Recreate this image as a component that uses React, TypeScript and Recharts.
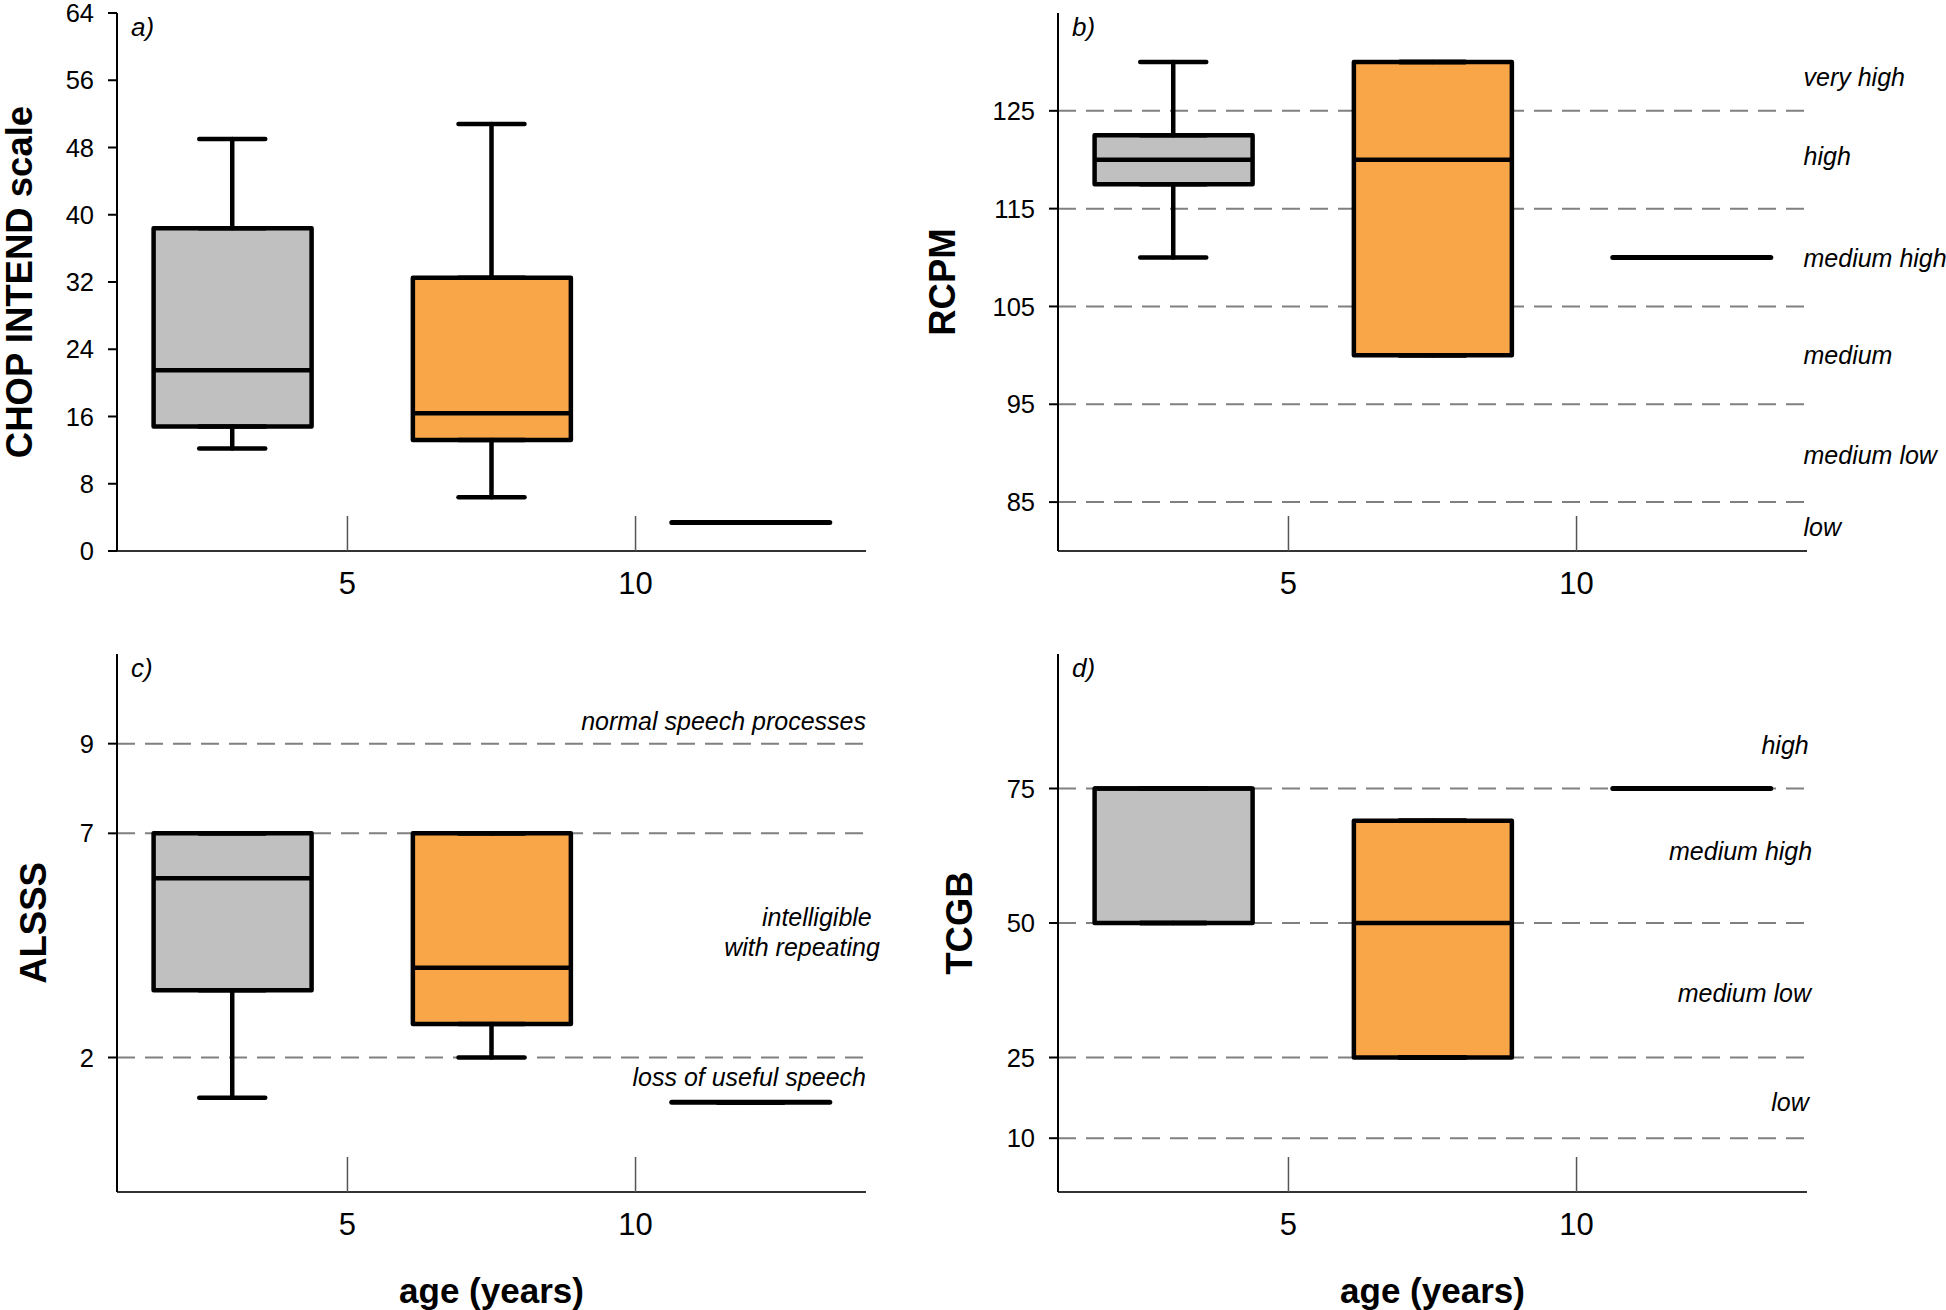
import React from 'react';
import {
  ComposedChart, Bar, Cell, Scatter, ErrorBar, XAxis, YAxis,
  CartesianGrid, ReferenceDot,
} from 'recharts';

// age groups (<5, 5-10, >10 years), centred on the age axis
const AGE_GROUPS = [3, 7.5, 12];
const AGE_TICKS = [5, 10];

// a) CHOP INTEND
const CHOP_MIN = [12.2, 6.4, 3.4];
const CHOP_Q1 = [14.8, 13.2, 3.4];
const CHOP_MEDIAN = [21.5, 16.4, 3.4];
const CHOP_Q3 = [38.4, 32.5, 3.4];
const CHOP_MAX = [49, 50.8, 3.4];
const CHOP_TICKS = [0, 8, 16, 24, 32, 40, 48, 56, 64];

// b) RCPM
const RCPM_MIN = [110, 100, 110];
const RCPM_Q1 = [117.5, 100, 110];
const RCPM_MEDIAN = [120, 120, 110];
const RCPM_Q3 = [122.5, 130, 110];
const RCPM_MAX = [130, 130, 110];
const RCPM_TICKS = [85, 95, 105, 115, 125];
const RCPM_BANDS = ['very high', 'high', 'medium high', 'medium', 'medium low', 'low'];
const RCPM_BAND_Y = [128.5, 120.4, 110, 100, 89.8, 82.5];
const RCPM_BAND_X = [13.94, 13.94, 13.94, 13.94, 13.94, 13.94];

// c) ALSSS
const ALSSS_MIN = [1.1, 2, 1];
const ALSSS_Q1 = [3.5, 2.75, 1];
const ALSSS_MEDIAN = [6, 4, 1];
const ALSSS_Q3 = [7, 7, 1];
const ALSSS_MAX = [7, 7, 1];
const ALSSS_TICKS = [2, 7, 9];
const ALSSS_BANDS = ['normal speech processes', 'intelligible', 'with repeating', 'loss of useful speech'];
const ALSSS_BAND_Y = [9.5, 5.13, 4.46, 1.56];
const ALSSS_BAND_X = [14, 14.1, 14.24, 14];

// d) TCGB
const TCGB_MIN = [50, 25, 75];
const TCGB_Q1 = [50, 25, 75];
const TCGB_MEDIAN = [75, 50, 75];
const TCGB_Q3 = [75, 69, 75];
const TCGB_MAX = [75, 69, 75];
const TCGB_TICKS = [10, 25, 50, 75];
const TCGB_BANDS = ['high', 'medium high', 'medium low', 'low'];
const TCGB_BAND_Y = [83.1, 63.4, 37, 16.7];
const TCGB_BAND_X = [14.03, 14.09, 14.07, 14.03];

const GROUP_FILLS = ['#c0c0c0', '#f9a648', '#000000'];
const PLOT_W = 749;
const BOX_W = 158;
const FONT = '"Liberation Sans", Arial, sans-serif';

const buildRows = (min: number[], q1: number[], med: number[], q3: number[], max: number[]) =>
  AGE_GROUPS.map((age, i) => ({
    age,
    box: q1[i] === q3[i] ? null : [q1[i], q3[i]],
    median: med[i],
    upper: q3[i],
    upperErr: [0, max[i] - q3[i]],
    lower: q1[i],
    lowerErr: [q1[i] - min[i], 0],
    single: q1[i] === q3[i],
  }));

const NoMark = () => <g />;

const MedianMark = (props: any) => {
  const { cx, cy, payload } = props;
  if (cx == null || cy == null) return <g />;
  const single = payload?.single;
  return (
    <line
      x1={cx - BOX_W / 2} x2={cx + BOX_W / 2} y1={cy} y2={cy}
      stroke="#000" strokeWidth={single ? 5 : 4.5} strokeLinecap={single ? 'round' : 'butt'}
    />
  );
};

const AgeTick = (props: any) => {
  const { x, y, payload } = props;
  return (
    <g>
      <line x1={x} x2={x} y1={y} y2={y - 35} stroke="#555" strokeWidth={1.5} />
      <text x={x} y={y + 32} textAnchor="middle" dominantBaseline="central" fontSize={31} fill="#000">
        {payload.value}
      </text>
    </g>
  );
};

const ageTitle = ({ viewBox }: any) => (
  <text
    x={viewBox.x + viewBox.width / 2} y={viewBox.y + 111}
    textAnchor="middle" fontSize={35} fontWeight="bold" fill="#000"
  >
    age (years)
  </text>
);

const yTitle = (text: string, baseX: number, cyFallback: number) => ({ viewBox }: any) => {
  const cy = viewBox && viewBox.height ? viewBox.y + viewBox.height / 2 : cyFallback;
  return (
    <text
      transform={`translate(${baseX},${cy}) rotate(-90)`}
      textAnchor="middle" fontSize={36.5} fontWeight="bold" fill="#000"
    >
      {text}
    </text>
  );
};

const letterLabel = (text: string) => ({ viewBox }: any) => (
  <text x={viewBox.x + 14} y={viewBox.y + 23} fontSize={26} fontStyle="italic" fill="#000">
    {text}
  </text>
);

const noteLabel = (text: string, anchor: 'start' | 'end') => ({ viewBox }: any) => (
  <text
    x={viewBox.x} y={viewBox.y} textAnchor={anchor} dominantBaseline="central"
    fontSize={25} fontStyle="italic" fill="#000"
  >
    {text}
  </text>
);

interface PanelSpec {
  letter: string;
  title: string;
  titleX: number;
  left: number;
  top: number;
  width: number;
  height: number;
  axisWidth: number;
  marginTop: number;
  xAxisHeight: number;
  domain: [number, number];
  ticks: number[];
  rows: ReturnType<typeof buildRows>;
  grid: boolean;
  showAge: boolean;
  bands?: string[];
  bandX?: number[];
  bandY?: number[];
  bandAnchor?: 'start' | 'end';
}

const Panel = ({ p }: { p: PanelSpec }) => {
  const plotH = p.height - p.marginTop - p.xAxisHeight;
  return (
    <div style={{ position: 'absolute', left: p.left, top: p.top }}>
      <ComposedChart
        width={p.width} height={p.height} data={p.rows}
        margin={{ top: p.marginTop, right: p.width - p.axisWidth - PLOT_W, bottom: 0, left: 0 }}
      >
        {p.grid && (
          <CartesianGrid
            vertical={false} syncWithTicks horizontalValues={p.ticks}
            stroke="#808080" strokeWidth={2} strokeDasharray="18 10"
          />
        )}
        <XAxis
          dataKey="age" type="number" domain={[1, 14]} ticks={AGE_TICKS} interval={0}
          height={p.xAxisHeight} tickSize={0} tickMargin={0} tickLine={false}
          axisLine={{ stroke: '#333', strokeWidth: 2 }} tick={<AgeTick />}
          label={p.showAge ? { content: ageTitle } : undefined}
        />
        <YAxis
          type="number" domain={p.domain} ticks={p.ticks} interval={0} width={p.axisWidth}
          tickSize={9} tickMargin={14}
          tick={{ fill: '#000', fontSize: 25.5 }}
          tickLine={{ stroke: '#000', strokeWidth: 2 }}
          axisLine={{ stroke: '#000', strokeWidth: 2 }}
          label={{ content: yTitle(p.title, p.titleX, p.marginTop + plotH / 2) }}
        />
        <Scatter dataKey="upper" shape={NoMark} isAnimationActive={false}>
          <ErrorBar dataKey="upperErr" direction="y" width={33} stroke="#000" strokeWidth={4.5} strokeLinecap="round" />
        </Scatter>
        <Scatter dataKey="lower" shape={NoMark} isAnimationActive={false}>
          <ErrorBar dataKey="lowerErr" direction="y" width={33} stroke="#000" strokeWidth={4.5} strokeLinecap="round" />
        </Scatter>
        <Bar dataKey="box" barSize={BOX_W} stroke="#000" strokeWidth={4.5} strokeLinejoin="round" isAnimationActive={false}>
          {p.rows.map((r, i) => <Cell key={i} fill={GROUP_FILLS[i]} />)}
        </Bar>
        <Scatter dataKey="median" shape={MedianMark} isAnimationActive={false} />
        {(p.bands || []).map((b, i) => (
          <ReferenceDot
            key={b} x={p.bandX![i]} y={p.bandY![i]} r={0} fill="none" stroke="none"
            ifOverflow="visible" label={{ content: noteLabel(b, p.bandAnchor || 'end') }}
          />
        ))}
        <ReferenceDot
          x={1} y={p.domain[1]} r={0} fill="none" stroke="none" ifOverflow="visible"
          label={{ content: letterLabel(p.letter) }}
        />
      </ComposedChart>
    </div>
  );
};

const PANELS: PanelSpec[] = [
  {
    letter: 'a)', title: 'CHOP INTEND scale', titleX: 32,
    left: 0, top: 0, width: 900, height: 640, axisWidth: 117, marginTop: 13, xAxisHeight: 89,
    domain: [0, 64], ticks: CHOP_TICKS, grid: false, showAge: false,
    rows: buildRows(CHOP_MIN, CHOP_Q1, CHOP_MEDIAN, CHOP_Q3, CHOP_MAX),
  },
  {
    letter: 'b)', title: 'RCPM', titleX: 55,
    left: 900, top: 0, width: 1046, height: 640, axisWidth: 158, marginTop: 13, xAxisHeight: 89,
    domain: [80, 135], ticks: RCPM_TICKS, grid: true, showAge: false,
    rows: buildRows(RCPM_MIN, RCPM_Q1, RCPM_MEDIAN, RCPM_Q3, RCPM_MAX),
    bands: RCPM_BANDS, bandX: RCPM_BAND_X, bandY: RCPM_BAND_Y, bandAnchor: 'start',
  },
  {
    letter: 'c)', title: 'ALSSS', titleX: 46,
    left: 0, top: 640, width: 900, height: 670, axisWidth: 117, marginTop: 14, xAxisHeight: 118,
    domain: [-1, 11], ticks: ALSSS_TICKS, grid: true, showAge: true,
    rows: buildRows(ALSSS_MIN, ALSSS_Q1, ALSSS_MEDIAN, ALSSS_Q3, ALSSS_MAX),
    bands: ALSSS_BANDS, bandX: ALSSS_BAND_X, bandY: ALSSS_BAND_Y, bandAnchor: 'end',
  },
  {
    letter: 'd)', title: 'TCGB', titleX: 72,
    left: 900, top: 640, width: 1046, height: 670, axisWidth: 158, marginTop: 14, xAxisHeight: 118,
    domain: [0, 100], ticks: TCGB_TICKS, grid: true, showAge: true,
    rows: buildRows(TCGB_MIN, TCGB_Q1, TCGB_MEDIAN, TCGB_Q3, TCGB_MAX),
    bands: TCGB_BANDS, bandX: TCGB_BAND_X, bandY: TCGB_BAND_Y, bandAnchor: 'end',
  },
];

export default function App() {
  return (
    <div
      style={{
        position: 'absolute', left: 0, top: 0, width: 1946, height: 1310,
        background: '#fff', fontFamily: FONT, overflow: 'hidden',
      }}
    >
      {PANELS.map(p => <Panel key={p.letter} p={p} />)}
    </div>
  );
}
